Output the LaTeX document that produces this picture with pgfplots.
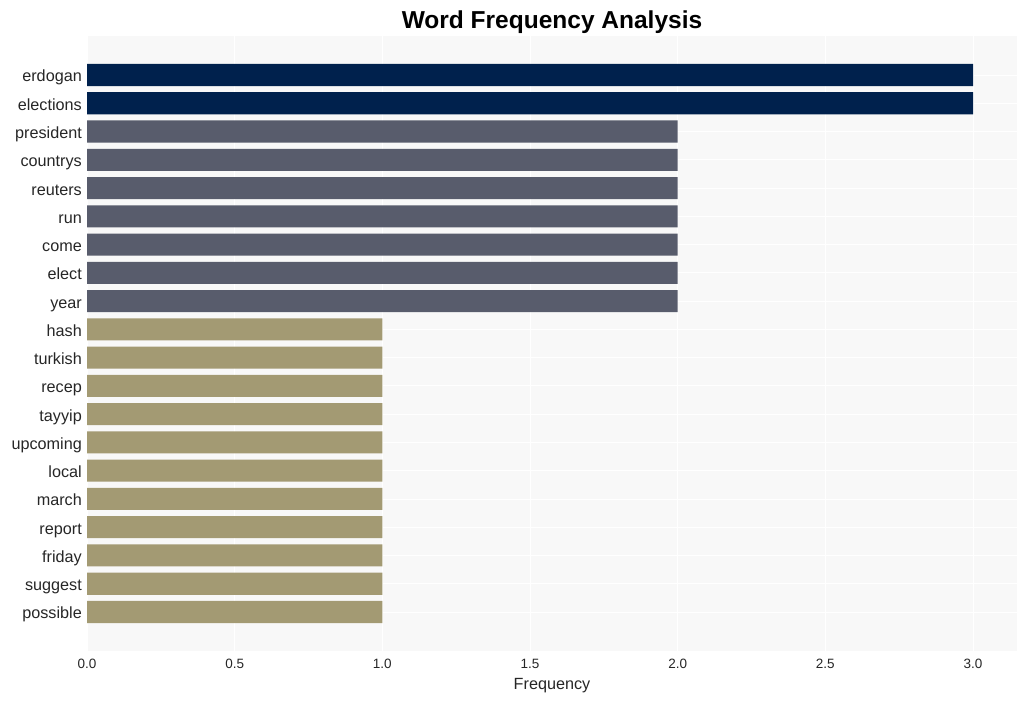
\documentclass[border=0pt]{standalone}
\usepackage{pgfplots}
\pgfplotsset{compat=1.18}
\usepackage{fontspec}
\setmainfont{Liberation Sans}
\definecolor{navy}{RGB}{0,33,77}
\definecolor{slate}{RGB}{88,92,108}
\definecolor{khaki}{RGB}{163,154,115}
\definecolor{bgc}{RGB}{248,248,248}
\begin{document}
\begin{tikzpicture}
\useasboundingbox (0,0) rectangle (1027pt,701pt);
\begin{axis}[
  at={(87pt,50pt)}, anchor=south west,
  scale only axis, width=930pt, height=615pt,
  xbar, bar shift=0pt, bar width=0.78,
  xmin=0, xmax=3.149,
  ymin=-1.38, ymax=20.38,
  axis background/.style={fill=bgc},
  axis line style={draw=none},
  major tick length=0pt,
  xtick={0,0.5,1,1.5,2,2.5,3},
  ytick={0,...,19},
  yticklabels={possible,suggest,friday,report,march,local,upcoming,tayyip,recep,turkish,hash,year,elect,come,run,reuters,countrys,president,elections,erdogan},
  xmajorgrids, ymajorgrids,
  major grid style={white, line width=0.8pt},
  /pgf/number format/assume math mode=true,
  xticklabel={\pgfmathprintnumber[fixed,fixed zerofill,precision=1]{\tick}},
  xticklabel style={font=\fontsize{13.5}{13.5}\selectfont, text=black!85, anchor=base, inner sep=0pt, yshift=-17pt},
  yticklabel style={font=\fontsize{16.2}{16.2}\selectfont, text=black!85, anchor=base east, inner sep=0pt, xshift=-5pt, yshift=-7pt},
  xlabel={Frequency},
  xlabel style={font=\fontsize{16.2}{16.2}\selectfont, text=black!85, at={(axis description cs:0.5,0)}, anchor=base, inner sep=0pt, yshift=-38pt},
  every axis title shift/.style={yshift=0pt},
  title={Word Frequency Analysis},
  title style={font=\bfseries\fontsize{24.5}{24.5}\selectfont, at={(axis description cs:0.5,1)}, anchor=base, inner sep=0pt, yshift=1pt},
]
\addplot[fill=navy, draw=none] coordinates {(3,19) (3,18)};
\addplot[fill=slate, draw=none] coordinates {(2,17) (2,16) (2,15) (2,14) (2,13) (2,12) (2,11)};
\addplot[fill=khaki, draw=none] coordinates {(1,10) (1,9) (1,8) (1,7) (1,6) (1,5) (1,4) (1,3) (1,2) (1,1) (1,0)};
\end{axis}
\end{tikzpicture}
\end{document}
